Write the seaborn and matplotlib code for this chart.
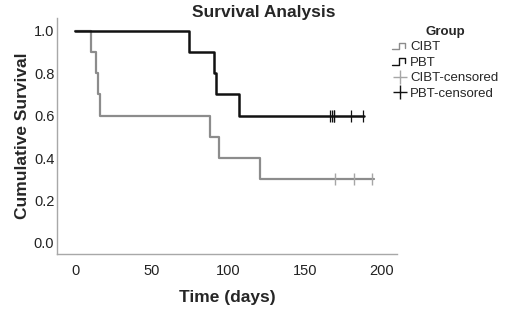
import numpy as np
import pandas as pd
import seaborn as sns
import matplotlib.pyplot as plt
from matplotlib.lines import Line2D
from matplotlib.legend_handler import HandlerLine2D

# Kaplan-Meier curves (time in days, cumulative survival)
cibt_time = [0, 10.5, 13.7, 15.2, 16.3, 88, 94, 121, 195]
cibt_surv = [1.0, 0.9, 0.8, 0.7, 0.6, 0.5, 0.4, 0.3, 0.3]
pbt_time = [0, 74.5, 91, 92, 107, 189]
pbt_surv = [1.0, 0.9, 0.8, 0.7, 0.6, 0.6]

# censored observations
cibt_cens_time = [170, 182, 194]
cibt_cens_surv = [0.3, 0.3, 0.3]
pbt_cens_time = [166.5, 168, 169.3, 169.3, 180.5, 188]
pbt_cens_surv = [0.6, 0.6, 0.6, 0.6, 0.6, 0.6]

x_ticks = [0, 50, 100, 150, 200]
y_ticks = [0.0, 0.2, 0.4, 0.6, 0.8, 1.0]

cibt_color = "#8c8c8c"
cibt_cens_color = "#a6a6a6"
pbt_color = "#111111"

sns.set_style("white")
plt.rcParams["font.family"] = ["Liberation Sans", "DejaVu Sans"]

curves = pd.concat([
    pd.DataFrame({"time": cibt_time, "surv": cibt_surv, "group": "CIBT"}),
    pd.DataFrame({"time": pbt_time, "surv": pbt_surv, "group": "PBT"}),
])
cens = pd.concat([
    pd.DataFrame({"time": cibt_cens_time, "surv": cibt_cens_surv, "group": "CIBT-censored"}),
    pd.DataFrame({"time": pbt_cens_time, "surv": pbt_cens_surv, "group": "PBT-censored"}),
])

fig = plt.figure(figsize=(5.1, 3.1), dpi=100)
ax = fig.add_axes([0.112, 0.181, 0.667, 0.761])

sns.lineplot(data=curves[curves.group == "CIBT"], x="time", y="surv", color=cibt_color,
             drawstyle="steps-post", linewidth=1.6, ax=ax, estimator=None, sort=False)
sns.lineplot(data=curves[curves.group == "PBT"], x="time", y="surv", color=pbt_color,
             drawstyle="steps-post", linewidth=1.8, ax=ax, estimator=None, sort=False)
sns.scatterplot(data=cens[cens.group == "CIBT-censored"], x="time", y="surv", marker="|",
                s=80, color=cibt_cens_color, linewidth=1.0, ax=ax, zorder=3)
sns.scatterplot(data=cens[cens.group == "PBT-censored"], x="time", y="surv", marker="|",
                s=80, color=pbt_color, linewidth=0.9, ax=ax, zorder=3)

ax.set_xlim(-11.8, 210.5)
ax.set_ylim(-0.052, 1.061)
ax.set_xticks(x_ticks)
ax.set_yticks(y_ticks)
ax.set_yticklabels([f"{v:.1f}" for v in y_ticks])
ax.tick_params(length=0, labelsize=10.5, colors="#222222")
ax.tick_params(axis="x", pad=7)
ax.tick_params(axis="y", pad=2)
for side in ["top", "right"]:
    ax.spines[side].set_visible(False)
for side in ["left", "bottom"]:
    ax.spines[side].set_color("#a8a8a8")
    ax.spines[side].set_linewidth(1.0)

ax.set_xlabel("Time (days)", fontsize=12.5, fontweight="bold", labelpad=9)
ax.set_ylabel("Cumulative Survival", fontsize=12.5, fontweight="bold", labelpad=3)
fig.text(264 / 510, 1 - 12 / 310, "Survival Analysis", fontsize=12.5, fontweight="bold",
         ha="center", va="center")


class StepHandler(HandlerLine2D):
    # little step glyph like the SPSS legend
    def create_artists(self, legend, orig_handle, xdescent, ydescent, width, height, fontsize, trans):
        w, h = width, height
        xs = [-xdescent, 0.45 * w, 0.45 * w, 0.85 * w, 0.85 * w]
        ys = [0.15 * h, 0.15 * h, 0.85 * h, 0.85 * h, 0.3 * h]
        ln = Line2D(xs, ys, color=orig_handle.get_color(), linewidth=orig_handle.get_linewidth())
        ln.set_transform(trans)
        return [ln]


handles = [
    Line2D([], [], color=cibt_color, linewidth=1.0),
    Line2D([], [], color=pbt_color, linewidth=1.0),
    Line2D([], [], color=cibt_cens_color, marker="+", markersize=10, linestyle="none", markeredgewidth=1.0),
    Line2D([], [], color=pbt_color, marker="+", markersize=10, linestyle="none", markeredgewidth=1.0),
]
labels = ["CIBT", "PBT", "CIBT-censored", "PBT-censored"]
leg = fig.legend(handles, labels, title="Group", loc="upper left",
                 bbox_to_anchor=(380 / 510, 1 - 14 / 310), frameon=False, fontsize=9.5,
                 handlelength=1.2, handletextpad=0.2, labelspacing=0.25,
                 handler_map={handles[0]: StepHandler(), handles[1]: StepHandler()})
leg.get_title().set_fontweight("bold")
leg.get_title().set_fontsize(9.5)

plt.savefig("out.png", dpi=100)
